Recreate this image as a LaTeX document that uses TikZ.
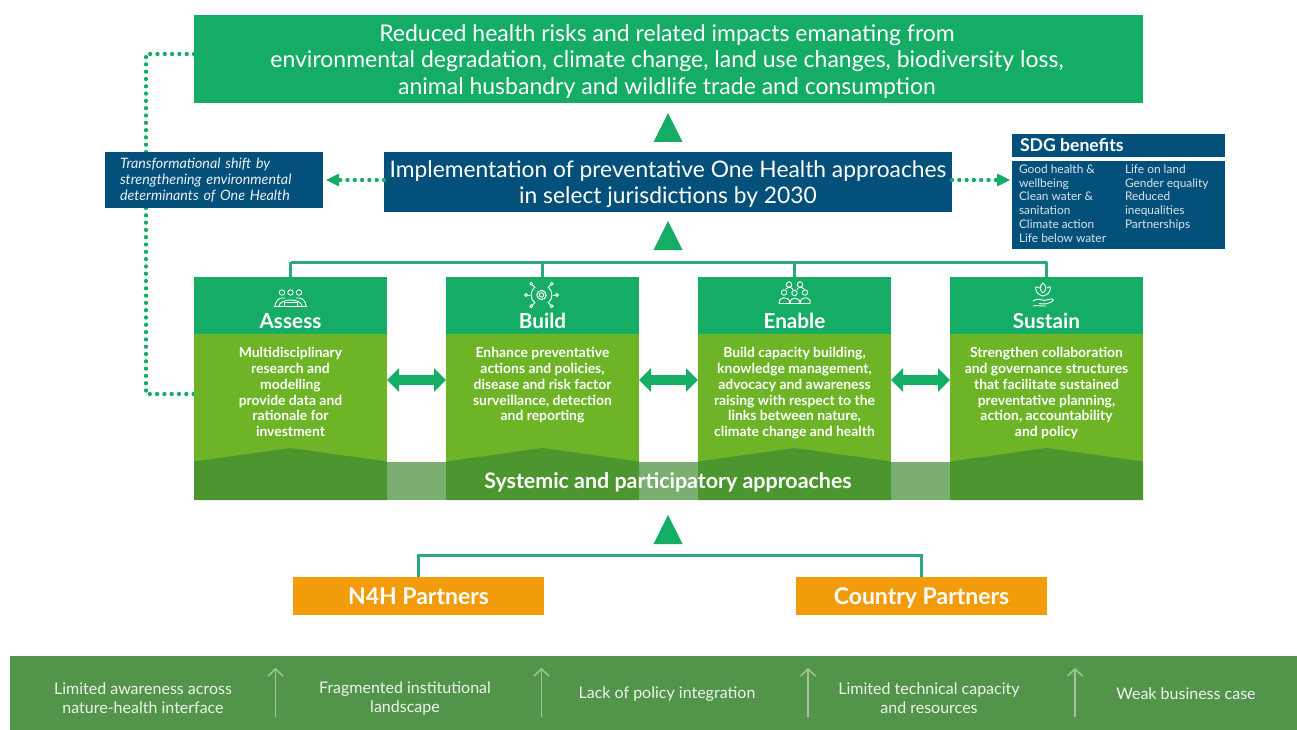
\documentclass[tikz,border=0pt]{standalone}
\usepackage{fontspec}
\setmainfont{Lato}
\usetikzlibrary{arrows.meta,calc}
\definecolor{hgreen}{HTML}{15AD65}
\definecolor{bgreen}{HTML}{6DB526}
\definecolor{dgreen}{HTML}{4C962F}
\definecolor{lband}{HTML}{7BAF72}
\definecolor{nblue}{HTML}{03507A}
\definecolor{orangeb}{HTML}{F39C0B}
\definecolor{footg}{HTML}{52944A}
\definecolor{foota}{HTML}{A3C49A}
\definecolor{conn}{HTML}{2DAA78}
\tikzset{
  x=1pt,y=-1pt,
  box/.style={draw=none,inner sep=0pt,outer sep=0pt,text=white,align=center},
  bus/.style={draw=conn,line width=3pt},
  dotline/.style={draw=hgreen,line width=4.3pt,line cap=round,dash pattern=on 0pt off 7.3pt},
  dothead/.style={fill=hgreen,draw=none},
  tri/.style={fill=hgreen,draw=none,minimum size=0pt},
  dbl/.style={draw=hgreen,line width=10pt,{Triangle[length=12pt,width=23pt]}-{Triangle[length=12pt,width=23pt]}},
  icon/.style={draw=white,line width=0.9pt,line cap=round,line join=round,fill=none},
  footarrow/.style={draw=foota,line width=1.5pt,-{Straight Barb[length=7pt,width=15pt]}},
  coltitle/.style={box,font=\fontsize{20.7}{24}\selectfont\bfseries},
  coltext/.style={box,anchor=north,font=\fontsize{13.9}{15.9}\selectfont\bfseries},
  foottext/.style={box,text=white!90!footg,font=\fontsize{16}{19}\selectfont},
}
\newcommand{\colbox}[4]{%
  % #1 name, #2 left x, #3 title, #4 body
  \fill[hgreen] (#2,277) rectangle ++(193,57);
  \fill[bgreen] (#2,334) rectangle ++(193,128);
  \fill[dgreen] (#2,461.5) -- ++(96.5,-13.5) -- ++(96.5,13.5) -- ++(0,38.5) -- ++(-193,0) -- cycle;
  \node[box,minimum width=193pt,minimum height=223pt,anchor=north west] (#1) at (#2,277) {};
  \node[coltitle] (#1title) at ($(#2,321)+(96.5,0)$) {#3};
  \node[coltext] (#1text) at ($(#2,347)+(96.5,0)$) {#4};
}
\begin{document}
\begin{tikzpicture}
\useasboundingbox (0,0) rectangle (1297,730);
\fill[white] (0,0) rectangle (1297,730);

\coordinate (arrowy) at (0,380);

% top box
\node[box,fill=hgreen,minimum width=949pt,minimum height=88pt,anchor=north west] (top) at (194,15) {};
\node[box,font=\fontsize{23}{26.5}\selectfont] (toptext) at (667,61.5)
  {Reduced health risks and related impacts emanating from\\
   environmental degradation, climate change, land use changes, biodiversity loss,\\
   animal husbandry and wildlife trade and consumption};

% dotted links behind left box
\coordinate (tl1) at (194,54);
\coordinate (tl2) at (146,54);
\coordinate (tl3) at (146,152);
\coordinate (al1) at (146,208);
\coordinate (al2) at (146,394);
\coordinate (al3) at (194,394);
\draw[dotline] (tl1) -- (tl2) -- (tl3);
\draw[dotline] (al1) -- (al2) -- (al3);

% left box
\node[box,fill=nblue,minimum width=218pt,minimum height=56pt,anchor=north west,
  text width=203pt,align=left,text=white!92!nblue,
  font=\fontsize{14.3}{16}\selectfont\itshape,inner sep=0pt] (shift) at (105,152)
  {\hspace*{7.5pt}Transformational shift by\\\hspace*{7.5pt}strengthening environmental\\\hspace*{7.5pt}determinants of One Health};

% middle box
\node[box,fill=nblue,minimum width=568pt,minimum height=60pt,anchor=north west] (impl) at (384,152) {};
\node[box,font=\fontsize{22.8}{26}\selectfont] (impltext) at (668,184.5)
  {Implementation of preventative One Health approaches\\in select jurisdictions by 2030};

% SDG
\node[box,fill=nblue,minimum width=213pt,minimum height=23pt,anchor=north west,
  font=\fontsize{17.6}{20}\selectfont\bfseries] (sdghead) at (1012,134)
  {\makebox[213pt][l]{\hspace*{8pt}SDG benefits}};
\node[box,fill=nblue,minimum width=213pt,minimum height=88pt,anchor=north west] (sdgbody) at (1012,161) {};
\node[box,anchor=north west,align=left,text=white!85!nblue,font=\fontsize{11.9}{13.8}\selectfont] (sdgl) at (1019,164.5)
  {Good health \&\\wellbeing\\Clean water \&\\sanitation\\Climate action\\Life below water};
\node[box,anchor=north west,align=left,text=white!85!nblue,font=\fontsize{11.9}{13.8}\selectfont] (sdgr) at (1125,164.5)
  {Life on land\\Gender equality\\Reduced\\inequalities\\Partnerships};

% dotted horizontal arrows
\coordinate (lhead) at (326,180);
\coordinate (rhead) at (1010,180);
\draw[dotline] (impl.west |- lhead) -- ($(lhead)+(12,0)$);
\fill[dothead] (lhead) -- ++(13,-6.5) -- ++(0,13) -- cycle;
\draw[dotline] (impl.east |- rhead) -- ($(rhead)+(-13,0)$);
\fill[dothead] (rhead) -- ++(-13,-6.5) -- ++(0,13) -- cycle;

% triangles
\coordinate (t1) at (668,113);
\coordinate (t2) at (668,221);
\coordinate (t3) at (668,515);
\foreach \t in {t1,t2,t3} \fill[tri] (\t) -- ++(-14.5,29) -- ++(29,0) -- cycle;

% band under columns
\fill[lband] (194,461.5) rectangle (1143,500);

% columns
\colbox{assess}{194}{Assess}{Multidisciplinary\\research and\\modelling\\provide data and\\rationale for\\investment}
\colbox{build}{446}{Build}{Enhance preventative\\actions and policies,\\disease and risk factor\\surveillance, detection\\and reporting}
\colbox{enable}{698}{Enable}{Build capacity building,\\knowledge management,\\advocacy and awareness\\raising with respect to the\\links between nature,\\climate change and health}
\colbox{sustain}{950}{Sustain}{Strengthen collaboration\\and governance structures\\that facilitate sustained\\preventative planning,\\action, accountability\\and policy}

\node[box,font=\fontsize{21.4}{24}\selectfont\bfseries] (sys) at (668,482) {Systemic and participatory approaches};

% bus
\coordinate (busy) at (0,262);
\draw[bus] (assess.north |- busy) -- (sustain.north |- busy);
\draw[bus] (assess.north |- busy) -- (assess.north);
\draw[bus] (build.north |- busy) -- (build.north);
\draw[bus] (enable.north |- busy) -- (enable.north);
\draw[bus] (sustain.north |- busy) -- (sustain.north);

% double arrows
\draw[dbl] (assess.east |- arrowy) -- (build.west |- arrowy);
\draw[dbl] (build.east |- arrowy) -- (enable.west |- arrowy);
\draw[dbl] (enable.east |- arrowy) -- (sustain.west |- arrowy);

% partners
\node[box,fill=orangeb,minimum width=251pt,minimum height=38pt,anchor=north west] (n4h) at (293,577) {};
\node[box,fill=orangeb,minimum width=251pt,minimum height=38pt,anchor=north west] (country) at (796,577) {};
\node[box,anchor=base,font=\fontsize{23}{26}\selectfont\bfseries] (n4ht) at (418.5,604) {N4H Partners};
\node[box,anchor=base,font=\fontsize{23}{26}\selectfont\bfseries] (countryt) at (921.5,604) {Country Partners};
\coordinate (py) at (0,555);
\coordinate (nx) at (418,0);
\coordinate (cx) at (921,0);
\draw[bus] (nx |- n4h.north) -- (nx |- py) -- (cx |- py) -- (cx |- country.north);

% footer
\node[box,fill=footg,minimum width=1287pt,minimum height=74pt,anchor=north west] (foot) at (10,656) {};
\node[foottext] (f1) at (143,698) {Limited awareness across\\nature-health interface};
\node[foottext] (f2) at (405,698) {Fragmented institutional\\landscape};
\node[foottext] (f3) at (667,694) {Lack of policy integration};
\node[foottext] (f4) at (929,698) {Limited technical capacity\\and resources};
\node[foottext] (f5) at (1186,694) {Weak business case};
\foreach \i/\x in {1/275.5,2/541.5,3/808,4/1075}{
  \coordinate (fa\i) at (\x,717);
  \coordinate (fb\i) at (\x,668);
  \draw[footarrow] (fa\i) -- (fb\i);
}

% icons
\begin{scope}[icon]
  \draw (282,292.5) circle (2.7) (290.5,292.5) circle (2.7) (299,292.5) circle (2.7);
  \draw (274,306.5) -- (307,306.5);
  \draw (275,306) .. controls (276,299) and (280,297.5) .. (285,298);
  \draw (306,306) .. controls (305,299) and (301,297.5) .. (296,298);
  \draw (279,306) .. controls (280,298) and (301,298) .. (302,306);
  \draw (284,306) -- (284,302.5) -- (297,302.5) -- (297,306);
\end{scope}
\begin{scope}[icon]
  \draw (541.5,295) circle (2.2);
  \draw[line width=1.4pt,dash pattern=on 1.4pt off 1.4pt] (541.5,295) circle (4.6);
  \draw (534.5,287.5) .. controls (530,291) and (530,299) .. (534.5,302.5);
  \draw (548.5,287.5) .. controls (553,291) and (553,299) .. (548.5,302.5);
  \draw (530,295) -- (527.5,295) (553,295) -- (555.5,295);
  \draw (526,295) circle (1.6) (557,295) circle (1.6);
  \draw (535,287.5) -- (532.5,285) (548,287.5) -- (550.5,285);
  \draw (535,302.5) -- (532.5,305) (548,302.5) -- (550.5,305);
  \draw (531.3,283.8) circle (1.5) (551.7,283.8) circle (1.5);
  \draw (531.3,306.2) circle (1.5) (551.7,306.2) circle (1.5);
\end{scope}
\begin{scope}[icon]
  \draw (789,284.5) circle (2.7) (800,284.5) circle (2.7);
  \draw (784,292.5) circle (2.7) (794.5,293) circle (2.7) (805,292.5) circle (2.7);
  \draw (779,303.5) -- (810,303.5);
  \draw (779,303) .. controls (778,297) and (789,295) .. (790,303);
  \draw (790,303) .. controls (790,296.5) and (800,296.5) .. (800,303);
  \draw (800,303) .. controls (801,295) and (812,297) .. (810,303);
  \draw (786,289) .. controls (788,286.5) and (792,287) .. (793,289.5);
  \draw (797,289.5) .. controls (798,287) and (802,286.5) .. (804,289);
\end{scope}
\begin{scope}[icon,shift={(3,0)}]
  \draw (1040,283) .. controls (1036,286) and (1037,291) .. (1040,293) .. controls (1043,291) and (1044,286) .. (1040,283);
  \draw (1036.5,288) .. controls (1033,286) and (1033,287) .. (1032.5,288) .. controls (1033,292) and (1035,295) .. (1040,296);
  \draw (1043.5,288) .. controls (1047,286) and (1047,287) .. (1047.5,288) .. controls (1047,292) and (1045,295) .. (1040,296);
  \draw (1030,301) .. controls (1034,298.5) and (1037,299) .. (1041,300.5) -- (1048,299) .. controls (1051,299) and (1051,300.5) .. (1049,301.5) .. controls (1045,304) and (1041,304.5) .. (1036,303.5);
  \draw (1030,306) .. controls (1035,305) and (1039,306.5) .. (1043,306);
\end{scope}
\end{tikzpicture}
\end{document}
